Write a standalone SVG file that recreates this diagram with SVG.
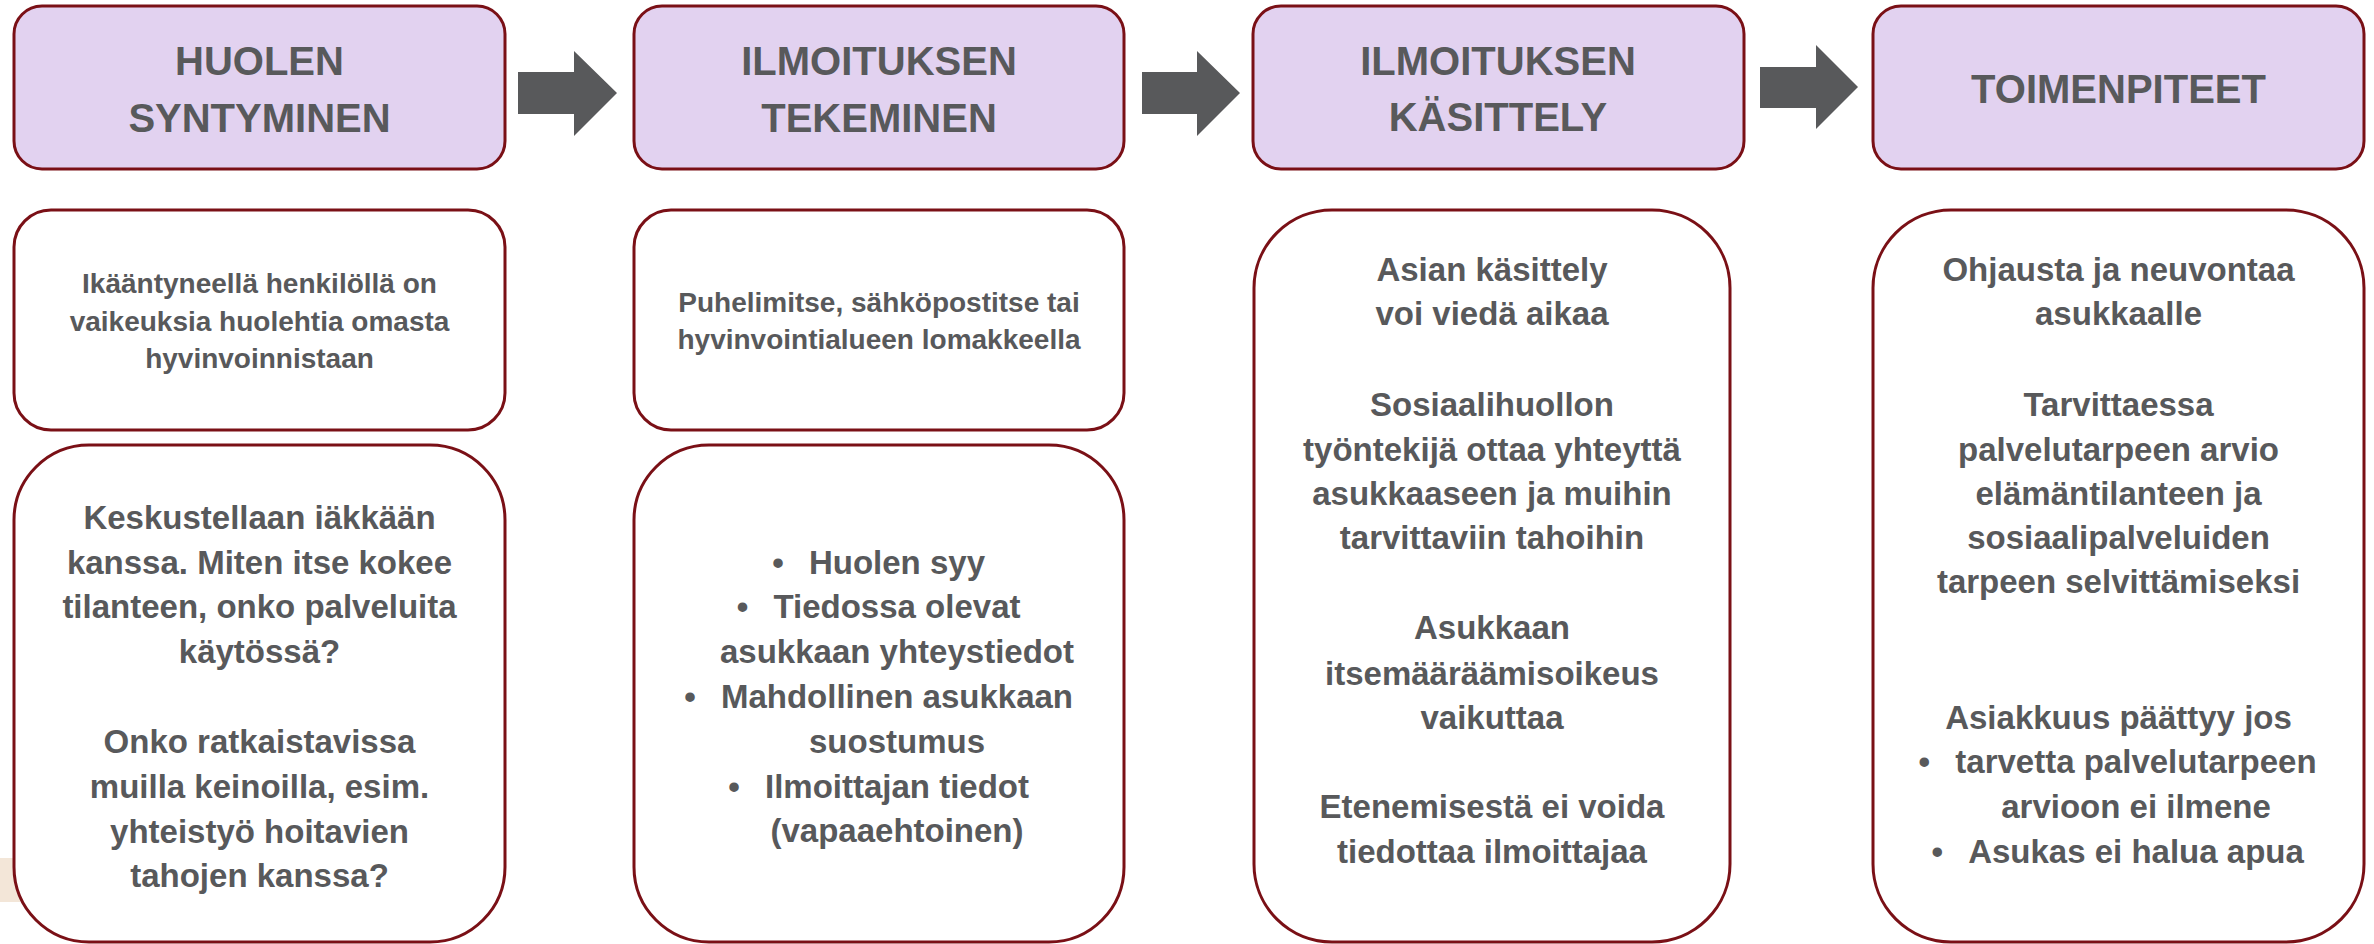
<svg xmlns="http://www.w3.org/2000/svg" width="2374" height="944" viewBox="0 0 2374 944">
<style>
.hdr{fill:#e2d2f0;stroke:#7a1016;stroke-width:3}
.box{fill:#ffffff;stroke:#7a1016;stroke-width:3}
.arrow{fill:#58595b}
text{font-family:"Liberation Sans",Arial,sans-serif;font-weight:bold;fill:#58595b;text-anchor:middle}
.h{font-size:40px}
.s{font-size:28px}
.b{font-size:33px}
</style>
<rect x="0" y="858" width="20" height="44" fill="#f3e6d8"/>
<g id="connectors">
<polygon class="arrow" points="518,72 574,72 574,51 617,93 574,136 574,114 518,114"/>
<polygon class="arrow" points="1142,72 1197,72 1197,51 1240,93 1197,136 1197,114 1142,114"/>
<polygon class="arrow" points="1760,67 1816,67 1816,45 1858,87 1816,129 1816,108 1760,108"/>
</g>
<g id="header1">
<rect class="hdr" x="14" y="6" width="491" height="163" rx="28"/>
<text class="h" x="259.5" y="75">HUOLEN</text>
<text class="h" x="259.5" y="132">SYNTYMINEN</text>
</g>
<g id="header2">
<rect class="hdr" x="634" y="6" width="490" height="163" rx="28"/>
<text class="h" x="879" y="75">ILMOITUKSEN</text>
<text class="h" x="879" y="132">TEKEMINEN</text>
</g>
<g id="header3">
<rect class="hdr" x="1253" y="6" width="491" height="163" rx="28"/>
<text class="h" x="1498" y="75">ILMOITUKSEN</text>
<text class="h" x="1498" y="131">KÄSITTELY</text>
</g>
<g id="header4">
<rect class="hdr" x="1873" y="6" width="491" height="163" rx="28"/>
<text class="h" x="2118.5" y="103">TOIMENPITEET</text>
</g>
<g id="info1">
<rect class="box" x="14" y="210" width="491" height="220" rx="37"/>
<text class="s" x="259.5" y="293">Ikääntyneellä henkilöllä on</text>
<text class="s" x="259.5" y="331">vaikeuksia huolehtia omasta</text>
<text class="s" x="259.5" y="368">hyvinvoinnistaan</text>
</g>
<g id="detail1">
<rect class="box" x="14" y="445" width="491" height="497" rx="75"/>
<text class="b" x="259.5" y="529">Keskustellaan iäkkään</text>
<text class="b" x="259.5" y="574">kanssa. Miten itse kokee</text>
<text class="b" x="259.5" y="618">tilanteen, onko palveluita</text>
<text class="b" x="259.5" y="663">käytössä?</text>
<text class="b" x="259.5" y="753">Onko ratkaistavissa</text>
<text class="b" x="259.5" y="798">muilla keinoilla, esim.</text>
<text class="b" x="259.5" y="843">yhteistyö hoitavien</text>
<text class="b" x="259.5" y="887">tahojen kanssa?</text>
</g>
<g id="info2">
<rect class="box" x="634" y="210" width="490" height="220" rx="37"/>
<text class="s" x="879" y="312">Puhelimitse, sähköpostitse tai</text>
<text class="s" x="879" y="349">hyvinvointialueen lomakkeella</text>
</g>
<g id="detail2">
<rect class="box" x="634" y="445" width="490" height="497" rx="75"/>
<text class="b" x="878.6" y="574">•<tspan dx="25.2">Huolen syy</tspan></text>
<text class="b" x="878.6" y="618">•<tspan dx="25.2">Tiedossa olevat</tspan></text>
<text class="b" x="897" y="663">asukkaan yhteystiedot</text>
<text class="b" x="878.6" y="708">•<tspan dx="25.2">Mahdollinen asukkaan</tspan></text>
<text class="b" x="897" y="753">suostumus</text>
<text class="b" x="878.6" y="798">•<tspan dx="25.2">Ilmoittajan tiedot</tspan></text>
<text class="b" x="897" y="842">(vapaaehtoinen)</text>
</g>
<g id="detail3">
<rect class="box" x="1254" y="210" width="476" height="732" rx="78"/>
<text class="b" x="1492" y="281">Asian käsittely</text>
<text class="b" x="1492" y="325">voi viedä aikaa</text>
<text class="b" x="1492" y="416">Sosiaalihuollon</text>
<text class="b" x="1492" y="461">työntekijä ottaa yhteyttä</text>
<text class="b" x="1492" y="505">asukkaaseen ja muihin</text>
<text class="b" x="1492" y="549">tarvittaviin tahoihin</text>
<text class="b" x="1492" y="639">Asukkaan</text>
<text class="b" x="1492" y="685">itsemääräämisoikeus</text>
<text class="b" x="1492" y="729">vaikuttaa</text>
<text class="b" x="1492" y="818">Etenemisestä ei voida</text>
<text class="b" x="1492" y="863">tiedottaa ilmoittajaa</text>
</g>
<g id="detail4">
<rect class="box" x="1873" y="210" width="491" height="732" rx="78"/>
<text class="b" x="2118.5" y="281">Ohjausta ja neuvontaa</text>
<text class="b" x="2118.5" y="325">asukkaalle</text>
<text class="b" x="2118.5" y="416">Tarvittaessa</text>
<text class="b" x="2118.5" y="461">palvelutarpeen arvio</text>
<text class="b" x="2118.5" y="505">elämäntilanteen ja</text>
<text class="b" x="2118.5" y="549">sosiaalipalveluiden</text>
<text class="b" x="2118.5" y="593">tarpeen selvittämiseksi</text>
<text class="b" x="2118.5" y="729">Asiakkuus päättyy jos</text>
<text class="b" x="2117.6" y="773">•<tspan dx="25.2">tarvetta palvelutarpeen</tspan></text>
<text class="b" x="2136" y="818">arvioon ei ilmene</text>
<text class="b" x="2117.6" y="863">•<tspan dx="25.2">Asukas ei halua apua</tspan></text>
</g>
</svg>
